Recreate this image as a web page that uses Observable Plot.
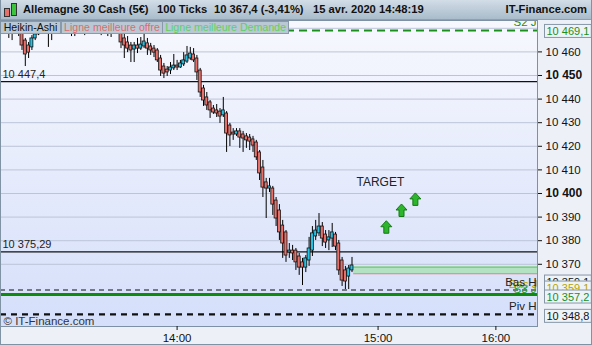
<!DOCTYPE html>
<html><head><meta charset="utf-8">
<script src="https://cdn.jsdelivr.net/npm/d3@7"></script>
<script src="https://cdn.jsdelivr.net/npm/@observablehq/plot@0.6"></script>
<style>
body{margin:0;background:#fff;font-family:"Liberation Sans",Arial,sans-serif;}
#wrap{position:relative;width:592px;height:345px;overflow:hidden;background:#edf1f7;}
#header{position:absolute;left:0;top:0;width:592px;height:20px;background:linear-gradient(#d2dde7,#a9bccb);border-bottom:1px solid #8ea1b2;box-sizing:border-box;z-index:5;font-weight:bold;font-size:11.2px;color:#111;}
#header span{position:absolute;top:3px;white-space:nowrap;}
#plotbg{position:absolute;left:0;top:20px;width:537px;height:306px;background:linear-gradient(#f7f8fe,#d5dffa);}
#chart{position:absolute;left:0;top:20px;z-index:1;}
.lg{position:absolute;top:21px;height:13px;box-sizing:border-box;background:#b9c8d4;border:1px solid #8a9aaa;font-size:10.6px;line-height:11px;text-align:center;white-space:nowrap;overflow:hidden;z-index:4;}
.ic{position:absolute;box-sizing:border-box;border:1px solid #333;}
#outer{position:absolute;left:0;top:0;width:592px;height:345px;box-sizing:border-box;border:1px solid #7f93a5;border-top:none;z-index:6;pointer-events:none;}
</style></head>
<body>
<div id="wrap">
  <div id="plotbg"></div>
  <div id="chart"></div>
  <div id="header">
    <div class="ic" style="left:4px;top:8px;width:6px;height:9px;background:#e8706b;"></div>
    <div class="ic" style="left:11px;top:3px;width:6px;height:13px;background:#3cc43c;"></div>
    <span style="left:23px">Allemagne 30 Cash (5€)</span>
    <span style="left:157px">100 Ticks</span>
    <span style="left:214px">10 367,4 (-3,41%)</span>
    <span style="left:313px">15 avr. 2020 14:48:19</span>
    <span style="right:5px">IT-Finance.com</span>
  </div>
  <div class="lg" style="left:0;width:61px;color:#111;">Heikin-Ashi</div>
  <div class="lg" style="left:61px;width:102px;color:#e26a6a;">Ligne meilleure offre</div>
  <div class="lg" style="left:162px;width:127px;color:#5fd05f;">Ligne meilleure Demande</div>
  <div id="outer"></div>
</div>
<script>
// Heikin-Ashi candles (100 ticks each)
const open = [10471.6,10470.8,10470.3,10469.1,10469.9,10469.1,10464.8,10462.7,10461.9,10465.7,
10467.4,10469.1,10469.9,10469.5,10469.1,10469.9,10470.8,10471.2,10471.6,10470.8,
10470.3,10469.9,10469.5,10469.9,10469.5,10470.3,10471.2,10471.6,10472.0,10471.2,
10470.3,10469.9,10469.5,10469.9,10470.3,10469.5,10465.7,10464.0,10462.7,10461.0,
10462.7,10461.4,10462.3,10463.6,10462.3,10461.4,10460.6,10457.2,10453.8,10452.5,
10452.1,10453.0,10454.2,10453.4,10454.7,10455.9,10457.2,10458.9,10457.2,10452.1,
10444.5,10440.7,10438.6,10436.0,10435.2,10434.7,10433.1,10433.9,10428.8,10425.8,
10425.0,10426.3,10425.0,10424.2,10423.7,10422.9,10421.6,10417.4,10411.0,10404.7,
10402.1,10402.1,10397.0,10392.8,10386.4,10383.5,10375.0,10375.8,10375.8,10373.3,
10370.8,10368.6,10371.6,10375.8,10381.8,10383.1,10386.0,10382.6,10380.1,10380.9,
10382.6,10378.8,10371.6,10367.4,10364.8,10367.4];
const close = [10469.1,10468.6,10468.2,10471.2,10467.8,10462.7,10458.9,10459.7,10465.7,10467.4,
10469.1,10470.3,10469.1,10468.6,10469.9,10470.8,10471.2,10471.6,10470.8,10469.9,
10469.5,10469.1,10470.3,10469.5,10470.8,10471.2,10471.6,10472.0,10471.2,10469.9,
10469.5,10469.1,10470.3,10470.8,10469.1,10464.0,10462.7,10461.4,10460.6,10462.7,
10461.4,10463.1,10464.4,10461.4,10460.6,10459.7,10456.4,10452.1,10450.8,10451.3,
10453.4,10454.2,10453.4,10455.1,10456.4,10458.5,10459.3,10456.4,10451.3,10442.8,
10439.4,10437.3,10435.2,10434.3,10433.9,10432.6,10435.2,10425.4,10424.6,10425.0,
10426.3,10423.7,10423.3,10422.5,10422.0,10420.3,10415.3,10408.5,10402.5,10402.1,
10403.0,10395.3,10389.4,10383.5,10378.8,10373.7,10375.8,10374.6,10370.8,10368.6,
10368.6,10372.5,10376.7,10383.1,10384.3,10386.0,10380.9,10379.2,10381.4,10383.5,
10377.5,10367.4,10363.1,10362.7,10368.2,10369.5];
const high = [10472.5,10471.6,10470.8,10472.0,10470.8,10469.9,10465.7,10464.0,10466.9,10469.9,
10470.3,10471.2,10470.8,10470.3,10470.8,10471.6,10472.0,10472.5,10472.5,10471.6,
10471.2,10470.8,10471.2,10470.8,10471.6,10472.0,10472.5,10472.5,10472.5,10472.0,
10471.2,10470.8,10471.2,10471.6,10471.2,10470.3,10467.8,10466.5,10464.0,10464.0,
10465.7,10466.1,10467.8,10465.7,10463.6,10462.7,10461.4,10458.5,10455.1,10453.8,
10455.5,10458.9,10456.4,10456.4,10459.7,10462.3,10461.9,10461.4,10458.5,10453.0,
10445.8,10442.8,10439.4,10437.3,10437.7,10436.0,10440.7,10434.7,10429.7,10427.5,
10427.5,10427.5,10426.3,10425.4,10425.0,10424.2,10422.5,10418.2,10414.0,10406.4,
10406.4,10403.0,10398.3,10395.3,10388.6,10384.3,10378.8,10378.0,10376.7,10374.6,
10372.5,10373.7,10381.4,10386.0,10388.6,10391.5,10387.7,10384.3,10384.3,10387.3,
10383.5,10380.1,10372.9,10369.1,10369.5,10372.9];
const low = [10467.4,10465.7,10464.8,10467.8,10466.5,10460.6,10453.8,10457.2,10460.6,10464.8,
10466.9,10468.2,10467.4,10461.9,10464.8,10469.1,10469.1,10469.5,10468.6,10468.2,
10466.5,10466.5,10467.8,10468.2,10466.9,10469.1,10469.1,10469.5,10468.6,10466.9,
10467.8,10466.5,10466.1,10468.2,10467.8,10461.4,10457.2,10459.7,10455.5,10455.5,
10459.3,10460.6,10461.4,10458.5,10458.5,10457.6,10455.5,10449.6,10448.7,10449.6,
10450.4,10452.1,10452.1,10453.0,10453.8,10455.1,10456.4,10455.5,10447.9,10440.7,
10436.9,10435.2,10431.8,10433.5,10432.2,10429.7,10432.2,10417.4,10419.9,10422.5,
10424.2,10419.1,10417.4,10419.1,10418.2,10417.4,10414.0,10405.5,10398.3,10389.4,
10400.4,10390.7,10386.0,10380.1,10372.5,10370.8,10372.5,10371.6,10367.4,10365.3,
10361.0,10366.5,10369.1,10373.3,10380.1,10381.8,10377.5,10376.7,10375.8,10377.1,
10375.8,10365.3,10360.6,10359.3,10359.3,10366.5];

// time axis (tick chart: positions in candle index units)
const timeTickPos = [52.0, 112.9, 148.6];
const timeTickLabels = ["14:00", "15:00", "16:00"];

// price axis ticks
const priceTicks = [10370, 10380, 10390, 10410, 10420, 10430, 10440, 10460];
const priceTicksBold = [10400, 10450];
const gridTicks = [10370, 10380, 10390, 10400, 10410, 10420, 10430, 10440, 10450, 10460, 10470];

// horizontal lines drawn by the user
const userLines = [10447.4, 10375.29];
const userLineLabels = ["10 447,4", "10 375,29"];

// pivot levels
const levelNames = ["S2 J", "Bas H", "S3 J", "Piv H"];
const levelPrices = [10469.1, 10359.1, 10357.2, 10348.8];

// best bid / ask zone
const bidPrice = 10368.8;
const askPrice = 10366.0;

// target arrows
const arrowIdx = [115.4, 120.0, 124.2];
const arrowPrice = [10385.7, 10392.8, 10397.5];
const targetLabel = "TARGET";
const targetIdx = 113.6;
const targetPrice = 10404.7;

const candles = open.map((o, k) => ({i: k, open: o, close: close[k], high: high[k], low: low[k]}));
const xMin = -1.51515, xMax = 161.2121;
const lastI = candles.length - 1;

const fmtTick = d => d3.format(",")(d).replace(",", " ");
const fmtLvl = d => d3.format(",.1f")(d).replace(",", " ").replace(".", ",");

const arrowSym = {draw(ctx) {
  ctx.moveTo(0, -6.5); ctx.lineTo(5.5, -0.5); ctx.lineTo(2.5, -0.5); ctx.lineTo(2.5, 6);
  ctx.lineTo(-2.5, 6); ctx.lineTo(-2.5, -0.5); ctx.lineTo(-5.5, -0.5); ctx.closePath();
}};

const lv = (k) => ({p: levelPrices[k], name: levelNames[k]});
const boxMark = (k, color, dy) => Plot.text([levelPrices[k]], {
  y: d => d, text: d => fmtLvl(d), frameAnchor: "right", textAnchor: "start", dx: 9, dy,
  fill: color, fontSize: 11, className: "lvlbox"
});

const svg = Plot.plot({
  width: 592, height: 325,
  marginLeft: 0, marginRight: 55, marginTop: 0, marginBottom: 19,
  style: {background: "transparent", fontFamily: "Liberation Sans, Arial, sans-serif", overflow: "visible"},
  x: {type: "linear", domain: [xMin, xMax]},
  y: {type: "linear", domain: [10343.64, 10473.305]},
  marks: [
    Plot.gridY(gridTicks, {stroke: "#bcc4d8", strokeOpacity: 1}),
    Plot.ruleY(userLines, {stroke: "#111", strokeWidth: 1.2}),
    Plot.text(userLines, {y: d => d, text: (d, k) => userLineLabels[k], frameAnchor: "left", textAnchor: "start", dx: 2, dy: -7, fontSize: 11, fill: "#222"}),
    // levels
    Plot.ruleY([lv(0)], {y: "p", stroke: "#1a8f1a", strokeWidth: 2, strokeDasharray: "8,5"}),
    Plot.ruleY([lv(1)], {y: "p", stroke: "#111", strokeWidth: 1, strokeDasharray: "5,4"}),
    Plot.ruleY([lv(2)], {y: "p", stroke: "#0f8a0f", strokeWidth: 3}),
    Plot.ruleY([lv(3)], {y: "p", stroke: "#111", strokeWidth: 2.2, strokeDasharray: "6,5"}),
    // bid / ask zone
    Plot.rect([{b: bidPrice, a: askPrice}], {x1: lastI + 0.5, x2: xMax, y1: "a", y2: "b", fill: "#b3e2c2"}),
    Plot.ruleY([bidPrice], {x1: lastI + 0.5, x2: xMax, stroke: "#6cc86c", strokeWidth: 1.2}),
    Plot.ruleY([askPrice], {x1: lastI + 0.5, x2: xMax, stroke: "#d98080", strokeWidth: 1.2}),
    // candles
    Plot.ruleX(candles, {x: "i", y1: "low", y2: "high", stroke: "#000", strokeWidth: 1}),
    Plot.rect(candles, {x1: d => d.i - 0.45, x2: d => d.i + 0.45, y1: "open", y2: "close",
      fill: d => d.close >= d.open ? "#22c4e6" : "#e8706b", stroke: "#111", strokeWidth: 0.8}),
    // target
    Plot.dot(arrowIdx.map((x, k) => ({x, y: arrowPrice[k]})), {x: "x", y: "y", symbol: arrowSym, fill: "#2db52d", stroke: "#137a13", strokeWidth: 1}),
    Plot.text([{x: targetIdx, y: targetPrice}], {x: "x", y: "y", text: () => targetLabel, fontSize: 12, fill: "#222"}),
    // level names on right inside plot
    Plot.text([lv(0)], {y: "p", text: "name", frameAnchor: "right", textAnchor: "end", dx: -1, dy: -8, fill: "#1a8f1a", fontSize: 11.5}),
    Plot.text([{p: levelPrices[1], name: "Bas J"}], {y: "p", text: "name", frameAnchor: "right", textAnchor: "end", dx: 0, dy: -6, fill: "#b8a300", fontSize: 11.5}),
    Plot.text([lv(2)], {y: "p", text: "name", frameAnchor: "right", textAnchor: "end", dx: -1, dy: -5, fill: "#22a022", fontSize: 11.5}),
    Plot.text([lv(1)], {y: "p", text: "name", frameAnchor: "right", textAnchor: "end", dx: -1, dy: -7.5, fill: "#222", fontSize: 11.5}),
    Plot.text([lv(3)], {y: "p", text: "name", frameAnchor: "right", textAnchor: "end", dx: -1, dy: -8, fill: "#222", fontSize: 11.5}),
    // copyright
    Plot.text(["© IT-Finance.com"], {frameAnchor: "bottom-left", text: d => d, textAnchor: "start", lineAnchor: "bottom", dx: 3, dy: -1.5, fontSize: 11.5, fill: "#333"}),
    Plot.frame({stroke: "#7e90a4"}),
    // axes
    Plot.axisY(priceTicks, {anchor: "right", tickFormat: fmtTick, tickSize: 4, tickPadding: 4, fontSize: 11.5, color: "#111"}),
    Plot.axisY(priceTicksBold, {anchor: "right", tickFormat: fmtTick, tickSize: 4, tickPadding: 4, fontSize: 12, fontWeight: "bold", color: "#111"}),
    Plot.axisX(timeTickPos, {anchor: "bottom", tickFormat: (d, k) => timeTickLabels[k], tickSize: 4, tickPadding: 3, fontSize: 11.5, color: "#111"}),
    // right-side value boxes
    boxMark(0, "#1a8f1a", 1),
    boxMark(1, "#111", -8),
    boxMark(1, "#b8a300", -2),
    boxMark(2, "#1a8f1a", 2.5),
    boxMark(3, "#111", 2)
  ]
});
document.getElementById("chart").appendChild(svg);

// boxes behind the value labels
d3.select(svg).selectAll("g.lvlbox text").each(function() {
  const b = this.getBBox();
  const r = document.createElementNS("http://www.w3.org/2000/svg", "rect");
  r.setAttribute("x", b.x - 2); r.setAttribute("y", b.y - 0.5);
  r.setAttribute("width", b.width + 4); r.setAttribute("height", b.height + 1);
  r.setAttribute("fill", "#eef3f8"); r.setAttribute("stroke", "#8797a8");
  const t = this.getAttribute("transform");
  if (t) r.setAttribute("transform", t);
  this.parentNode.insertBefore(r, this);
});
</script>
</body></html>
